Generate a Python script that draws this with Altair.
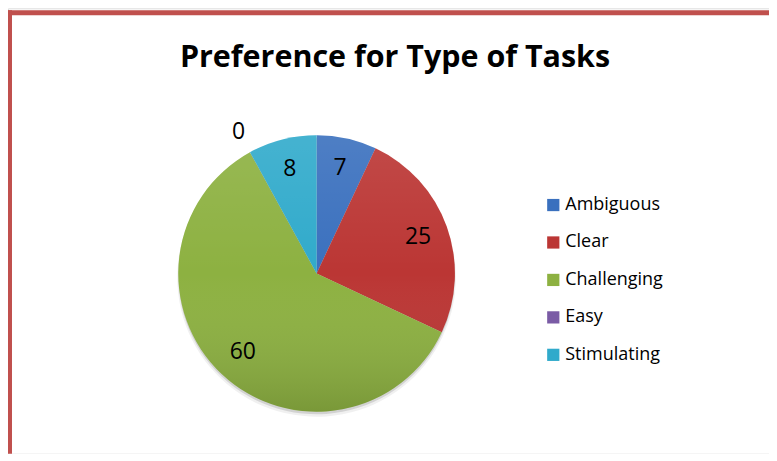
import math
import altair as alt
import pandas as pd

categories = ["Ambiguous", "Clear", "Challenging", "Easy", "Stimulating"]
values = [7, 25, 60, 0, 8]
colors = ["#3A70BE", "#BB3634", "#8DB141", "#7A5BA5", "#30AACB"]
title_text = "Preference for Type of Tasks"

df = pd.DataFrame({"category": categories, "value": values,
                   "idx": list(range(len(categories)))})
one = pd.DataFrame({"k": [0]})

W, H = 762, 446
CX, CY, R = 309, 265.5, 138.5
TOTAL = sum(values)

color = alt.Color(
    "category:N",
    scale=alt.Scale(domain=categories, range=colors),
    legend=alt.Legend(
        title=None, orient="none", legendX=537, legendY=188,
        symbolType="square", symbolSize=150, symbolStrokeWidth=0,
        labelFont="Open Sans", labelFontSize=18, labelColor="black",
        rowPadding=19.5, labelOffset=3, padding=0,
    ),
)

base = alt.Chart(df).encode(
    theta=alt.Theta("value:Q", stack=True),
    order=alt.Order("idx:Q"),
)

shadow1 = base.mark_arc(radius=R + 1, x=CX, y=CY + 4, fill="#000000", opacity=0.06)
shadow2 = base.mark_arc(radius=R, x=CX, y=CY + 2.5, fill="#000000", opacity=0.12)

pie = base.mark_arc(radius=R, x=CX, y=CY).encode(color=color)

overlay = alt.Chart(one).mark_arc(
    radius=R, x=CX, y=CY,
    fill={
        "gradient": "linear", "x1": 0, "y1": 0, "x2": 0, "y2": 1,
        "stops": [
            {"offset": 0, "color": "rgba(255,255,255,0.10)"},
            {"offset": 0.5, "color": "rgba(255,255,255,0.0)"},
            {"offset": 1, "color": "rgba(0,0,0,0.14)"},
        ],
    },
).encode(theta=alt.value(0), theta2=alt.value(2 * math.pi))

labels = alt.Chart(df).transform_window(
    cum="sum(value)", sort=[alt.SortField("idx")],
    frame=[None, 0],
).transform_calculate(
    mid="datum.cum - datum.value / 2",
    r="datum.value == 0 ? 162 : 108",
).mark_text(
    font="Open Sans", fontSize=23, color="black", x=CX, y=CY
).encode(
    theta=alt.Theta("mid:Q", stack=None,
                    scale=alt.Scale(domain=[0, TOTAL], range=[0, 2 * math.pi])),
    radius=alt.Radius("r:Q", scale=None),
    text="value:Q",
)

title = alt.Chart(pd.DataFrame({"t": [title_text]})).mark_text(
    font="Open Sans", fontSize=30.5, fontWeight="bold", color="black",
    baseline="alphabetic", align="center",
).encode(text="t:N", x=alt.value(387.5), y=alt.value(59))

frame_top = alt.Chart(one).mark_rule(color="#C0504D", strokeWidth=5).encode(
    x=alt.value(0), x2=alt.value(W), y=alt.value(4.5)
)
frame_left = alt.Chart(one).mark_rule(color="#C0504D", strokeWidth=4).encode(
    x=alt.value(2), y=alt.value(2), y2=alt.value(H)
)

chart = alt.layer(
    frame_top, frame_left, shadow1, shadow2, pie, overlay, labels, title
).properties(
    width=W, height=H,
    autosize=alt.AutoSizeParams(type="none"),
    padding=0,
).configure_view(stroke=None).configure(background="white")

chart.save("out.html", embed_options={"renderer": "svg", "actions": False})
